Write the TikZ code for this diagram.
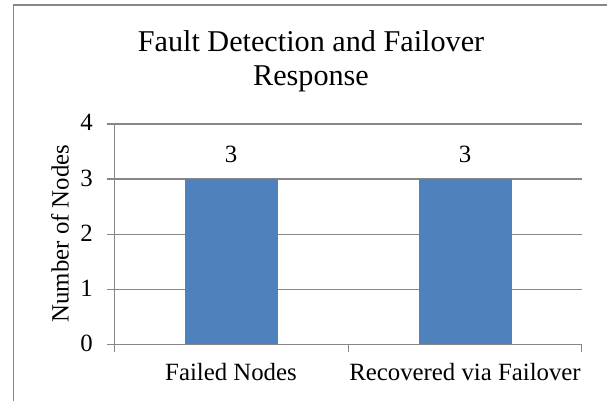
\documentclass[tikz,border=0pt]{standalone}
\usepackage{fontspec}
\setmainfont{Liberation Serif}
\begin{document}
\begin{tikzpicture}[x=1pt,y=-1pt,
  grid/.style={draw=gridgray,line width=1.4pt},
  bar/.style={fill=barblue,draw=none},
  lbl/.style={font=\fontsize{24.8}{29}\selectfont,inner sep=0pt},
  ttl/.style={font=\fontsize{30.2}{35}\selectfont,inner sep=0pt}]
\definecolor{gridgray}{HTML}{878787}
\definecolor{barblue}{HTML}{4F81BD}
\useasboundingbox (0,0) rectangle (607,401);
\fill[white] (0,0) rectangle (607,401);
% frame
\draw[gridgray,line width=1.8pt] (13.5,402) -- (13.5,5) -- (608,5);
% title
\node[ttl,anchor=base] (t1) at (311,51.7) {Fault Detection and Failover};
\node[ttl,anchor=base] (t2) at (311,85.7) {Response};
% gridlines and y ticks
\foreach \v/\y in {1/289.4,2/234.3,3/179.1,4/124} {
  \draw[grid] (106.5,\y) -- (582,\y);
}
% bars
\fill[bar] (185,179.1) rectangle (278.3,344.5);
\fill[bar] (419.3,179.1) rectangle (512.2,344.5);
% axes
\draw[grid] (114.2,124) -- (114.2,352);
\draw[grid] (106.5,344.5) -- (582,344.5);
\foreach \x in {348.4,581.5} \draw[grid] (\x,344.5) -- (\x,352);
% y tick labels
\foreach \v/\y in {0/344.5,1/289.4,2/234.3,3/179.1,4/124} {
  \node[lbl,anchor=base east] (y\v) at (93,\y+7) {\v};
}
% axis title
\node[lbl,rotate=90] (yt) at (60,233.5) {Number of Nodes};
% value labels
\node[lbl,anchor=base] (v1) at (231,162.3) {3};
\node[lbl,anchor=base] (v2) at (465,162.3) {3};
% category labels
\node[lbl,anchor=base] (c1) at (231,380.7) {Failed Nodes};
\node[lbl,anchor=base] (c2) at (465,380.7) {Recovered via Failover};
\end{tikzpicture}
\end{document}
